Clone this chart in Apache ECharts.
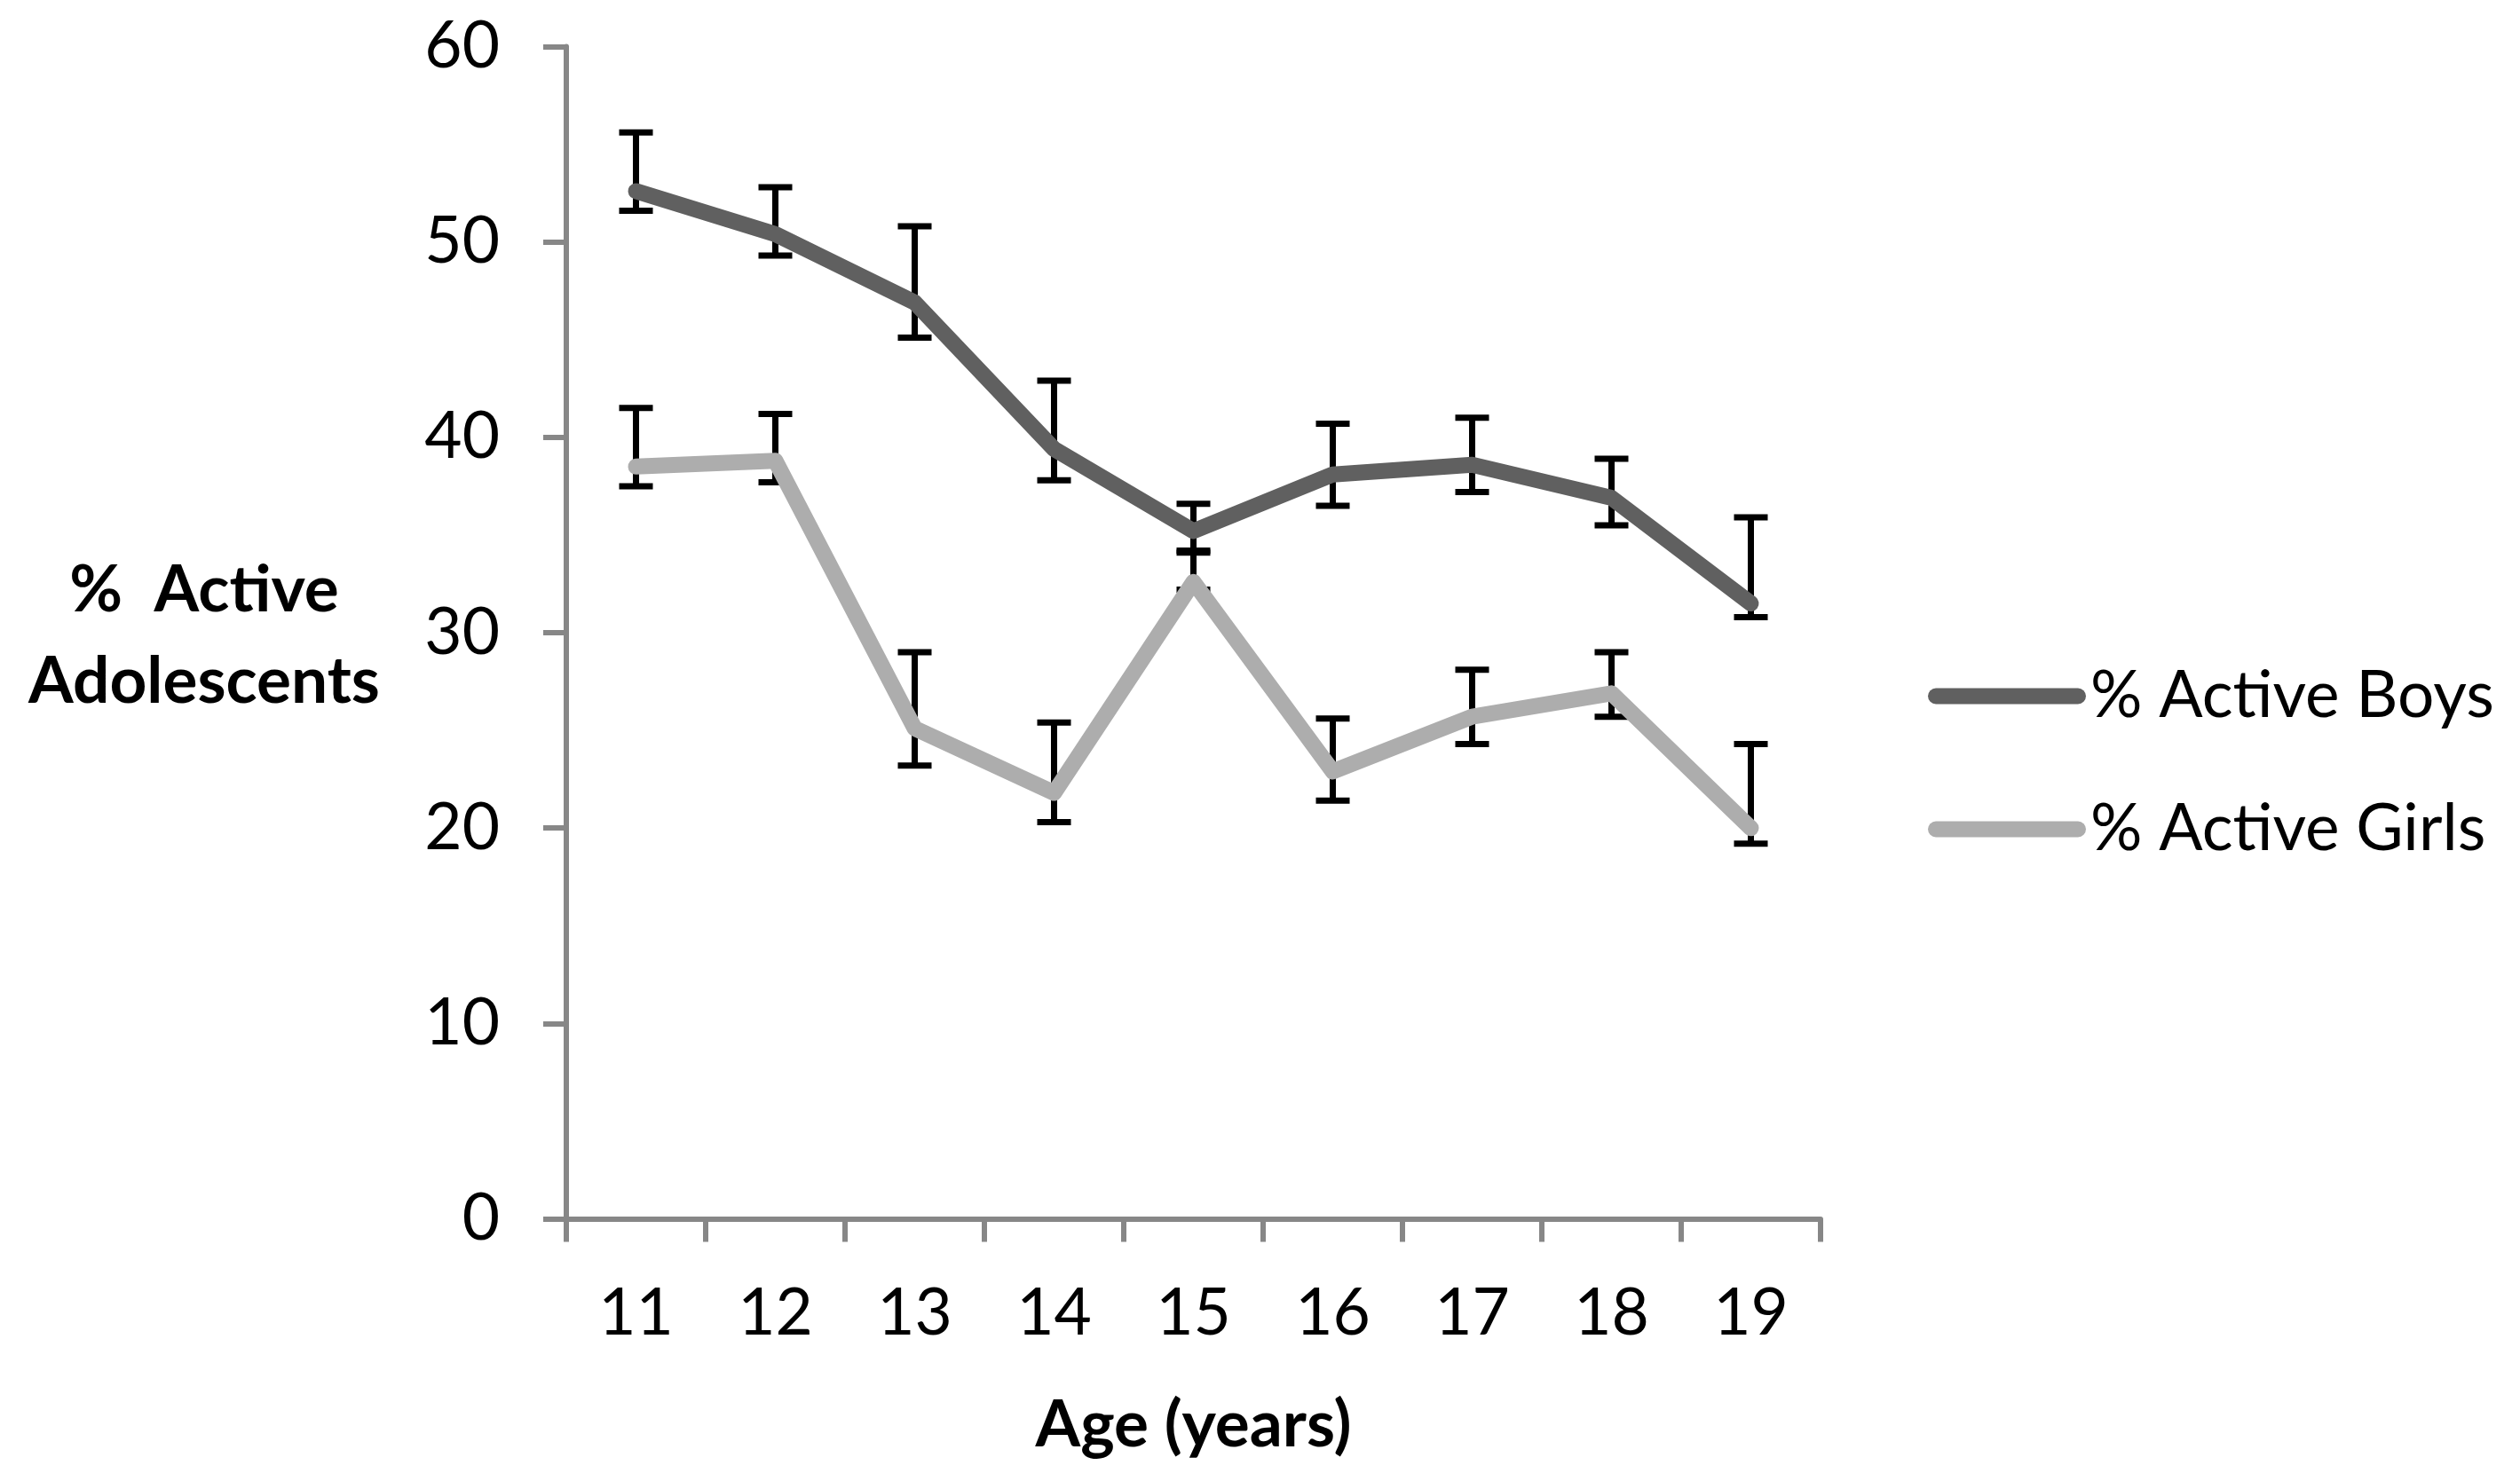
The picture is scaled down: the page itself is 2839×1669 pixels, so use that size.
<!DOCTYPE html>
<html>
<head>
<meta charset="utf-8">
<script src="https://cdn.jsdelivr.net/npm/echarts@6/dist/echarts.min.js"></script>
<style>
html,body{margin:0;padding:0;background:#fff;}
#chart{width:2839px;height:1669px;}
</style>
</head>
<body>
<div id="chart"></div>
<script>
const ages = ['11','12','13','14','15','16','17','18','19'];
const boys      = [52.6, 50.4, 46.9, 39.4, 35.2, 38.1, 38.6, 36.9, 31.5];
const boysLow   = [51.6, 49.3, 45.1, 37.8, 34.2, 36.5, 37.2, 35.5, 30.8];
const boysHigh  = [55.6, 52.8, 50.8, 42.9, 36.6, 40.7, 41.0, 38.9, 35.9];
const girls     = [38.5, 38.8, 25.1, 21.8, 32.6, 22.9, 25.7, 26.9, 20.0];
const girlsLow  = [37.5, 37.7, 23.2, 20.3, 32.2, 21.4, 24.3, 25.7, 19.2];
const girlsHigh = [41.5, 41.2, 29.0, 25.4, 34.1, 25.6, 28.1, 29.0, 24.3];
const yTicks = [0, 10, 20, 30, 40, 50, 60];

const FONT = 'Lato';
const chart = echarts.init(document.getElementById('chart'), null, {renderer: 'canvas'});

function errData(lo, hi) {
  return ages.map((a, i) => [i, lo[i], hi[i]]);
}
function renderErr(params, api) {
  const i = api.value(0);
  const lo = api.coord([i, api.value(1)]);
  const hi = api.coord([i, api.value(2)]);
  const hw = 19;
  const st = {stroke: '#000', lineWidth: 7};
  return {
    type: 'group',
    children: [
      {type: 'line', shape: {x1: lo[0], y1: lo[1], x2: hi[0], y2: hi[1]}, style: st},
      {type: 'line', shape: {x1: hi[0] - hw, y1: hi[1], x2: hi[0] + hw, y2: hi[1]}, style: st},
      {type: 'line', shape: {x1: lo[0] - hw, y1: lo[1], x2: lo[0] + hw, y2: lo[1]}, style: st}
    ]
  };
}

const lineIcon = 'path://M9,0 L169,0 A9,9 0 0 1 169,18 L9,18 A9,9 0 0 1 9,0 Z';

chart.setOption({
  animation: false,
  backgroundColor: '#fff',
  grid: {left: 638, right: 788, top: 52.5, bottom: 295.5, outerBoundsMode: 'none'},
  legend: {
    orient: 'vertical',
    left: 2167,
    top: 743,
    itemWidth: 178,
    itemHeight: 18,
    itemGap: 77,
    icon: lineIcon,
    data: ['% Active Boys', '% Active Girls'],
    textStyle: {fontFamily: FONT, fontSize: 73, color: '#000', lineHeight: 73}
  },
  graphic: [{
    type: 'text',
    x: 230,
    y: 717,
    style: {
      text: '%  Active\nAdolescents',
      font: 'bold 73px Lato',
      fill: '#000',
      align: 'center',
      verticalAlign: 'middle',
      lineHeight: 103
    }
  }],
  xAxis: {
    type: 'category',
    data: ages,
    boundaryGap: true,
    axisLine: {lineStyle: {color: '#878787', width: 6}},
    axisTick: {show: true, length: 26, lineStyle: {color: '#878787', width: 6}, alignWithLabel: false},
    axisLabel: {fontFamily: FONT, fontSize: 73, color: '#000', margin: 70},
    splitLine: {show: false},
    name: 'Age (years)',
    nameLocation: 'middle',
    nameGap: 196,
    nameTextStyle: {fontFamily: FONT, fontSize: 73, fontWeight: 'bold', color: '#000'}
  },
  yAxis: {
    type: 'value',
    min: 0,
    max: 60,
    interval: 10,
    axisLine: {show: true, lineStyle: {color: '#878787', width: 6}},
    axisTick: {show: true, length: 26, lineStyle: {color: '#878787', width: 6}},
    axisLabel: {fontFamily: FONT, fontSize: 73, color: '#000', margin: 75,
      formatter: v => yTicks.indexOf(v) >= 0 ? String(v) : ''},
    splitLine: {show: false}
  },
  series: [
    {
      name: 'boysErr', type: 'custom', renderItem: renderErr,
      data: errData(boysLow, boysHigh), encode: {x: 0, y: [1, 2]}, z: 1, silent: true
    },
    {
      name: 'girlsErr', type: 'custom', renderItem: renderErr,
      data: errData(girlsLow, girlsHigh), encode: {x: 0, y: [1, 2]}, z: 1, silent: true
    },
    {
      name: '% Active Boys', type: 'line', data: boys, symbol: 'none', z: 3,
      itemStyle: {color: '#606060'},
      lineStyle: {color: '#606060', width: 18, cap: 'round', join: 'round'}
    },
    {
      name: '% Active Girls', type: 'line', data: girls, symbol: 'none', z: 2,
      itemStyle: {color: '#ADADAD'},
      lineStyle: {color: '#ADADAD', width: 18, cap: 'round', join: 'round'}
    }
  ]
});
</script>
</body>
</html>
